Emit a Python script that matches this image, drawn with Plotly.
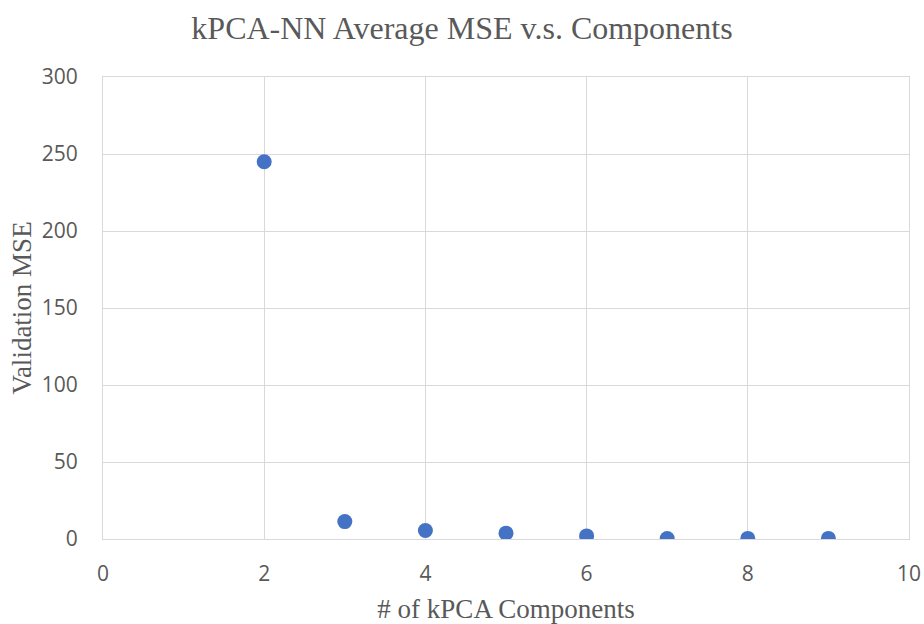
import plotly.graph_objects as go

components = [2, 3, 4, 5, 6, 7, 8, 9]
mse = [245, 11.3, 5.5, 3.8, 2.0, 0.3, 0.4, 0.4]
x_ticks = [0, 2, 4, 6, 8, 10]
y_ticks = [0, 50, 100, 150, 200, 250, 300]

fig = go.Figure(go.Scatter(
    x=components, y=mse, mode="markers",
    marker=dict(size=15, color="#4472C4"),
))

fig.update_layout(
    width=924, height=624,
    paper_bgcolor="white", plot_bgcolor="white",
    margin=dict(l=103, r=15, t=77, b=85),
    title=dict(text="kPCA-NN Average MSE v.s. Components", x=0.5, xanchor="center",
               y=0.955, yanchor="middle",
               font=dict(family="Liberation Serif", size=32, color="#595959")),
    showlegend=False,
)
fig.update_xaxes(
    range=[0, 10], tickvals=x_ticks, showgrid=True, gridcolor="#D9D9D9", gridwidth=1,
    zeroline=False, showline=True, mirror=True, linecolor="#D9D9D9", linewidth=1,
    ticks="", automargin=False, ticklabelstandoff=16,
    tickfont=dict(family="Open Sans", size=21, color="#595959"),
    title=dict(text="# of kPCA Components", standoff=12,
               font=dict(family="Liberation Serif", size=27, color="#595959")),
)
fig.update_yaxes(
    range=[0, 300], tickvals=y_ticks, showgrid=True, gridcolor="#D9D9D9", gridwidth=1,
    zeroline=True, zerolinecolor="#BFBFBF", zerolinewidth=1.5,
    showline=True, mirror=True, linecolor="#D9D9D9", linewidth=1,
    ticks="", automargin=False, ticklabelstandoff=20,
    tickfont=dict(family="Open Sans", size=21, color="#595959"),
    title=dict(text="Validation MSE", standoff=2,
               font=dict(family="Liberation Serif", size=27, color="#595959")),
)

fig.write_html("out.html")
